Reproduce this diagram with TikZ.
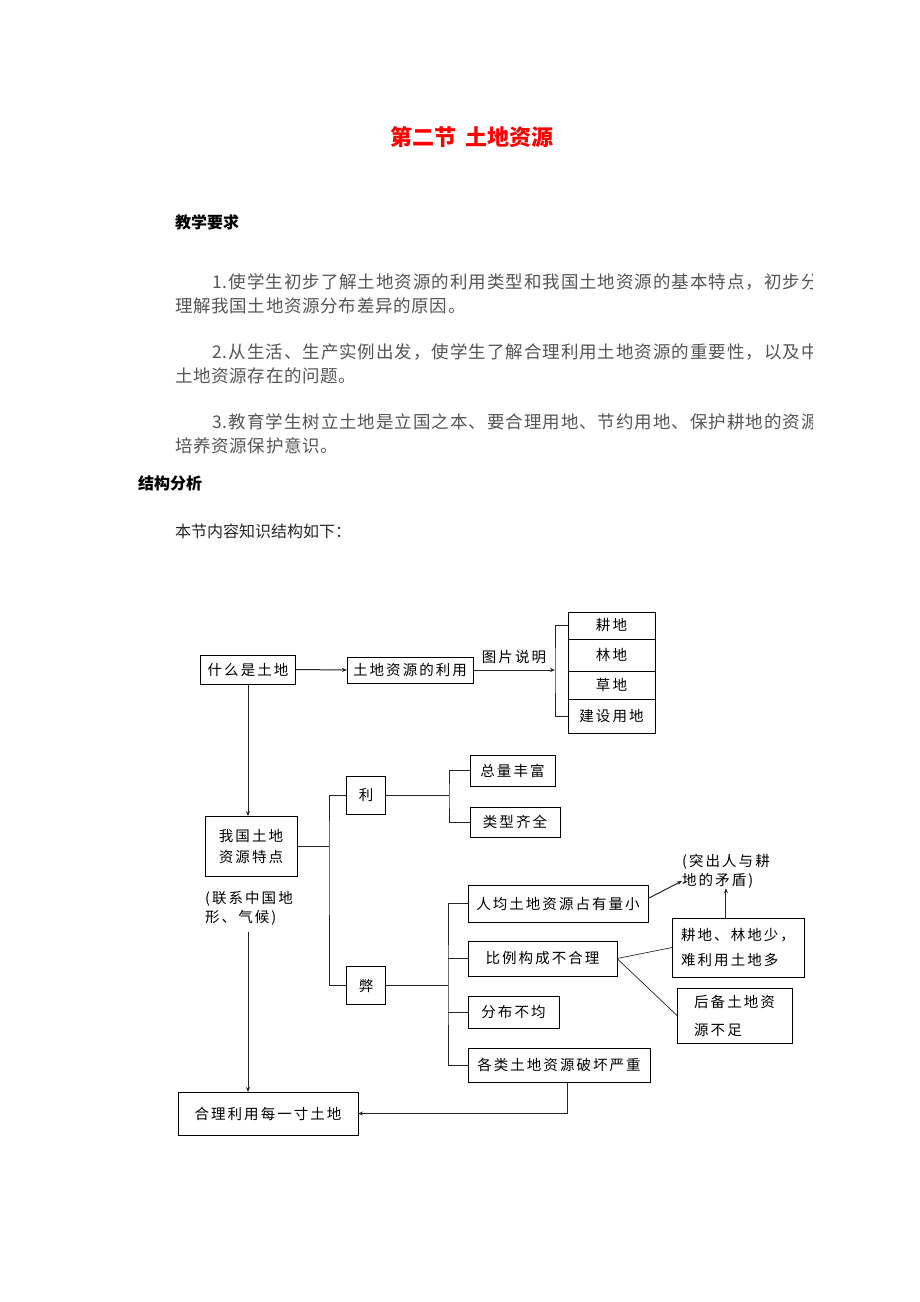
\documentclass[tikz,border=0pt]{standalone}
\usepackage{fontspec}
\setmainfont{Noto Sans CJK SC}
\newfontfamily\cjk{Noto Sans CJK SC}
\newfontfamily\cjkwide[LetterSpace=14]{Noto Sans CJK SC}
\newfontfamily\cjkpara[LetterSpace=4]{Noto Sans CJK SC}
\newfontfamily\cjkjust[LetterSpace=5.5]{Noto Sans CJK SC}
\usepackage{xcolor}
\usetikzlibrary{arrows.meta, positioning}
\definecolor{titlered}{HTML}{FF0000}
\definecolor{bodygray}{HTML}{555555}
\definecolor{linegray}{HTML}{262626}

\begin{document}
\begin{tikzpicture}[
  x=1pt, y=-1pt,
  box/.style={draw=black, line width=1pt, inner sep=0pt, outer sep=0pt, font=\fontsize{14.5}{21}\cjkwide, align=center},
  note/.style={inner sep=0pt, font=\fontsize{14.5}{19}\cjkwide, align=left},
  link/.style={draw=linegray, line width=1pt},
  thinlink/.style={draw=linegray, line width=0.7pt},
  arr/.style={link, -{Stealth[length=5pt, width=4pt]}},
  para/.style={anchor=west, inner sep=0pt, text=bodygray, font=\fontsize{17.5}{17.5}\cjkpara},
  parajust/.style={para, font=\fontsize{17.5}{17.5}\cjkjust},
  heading/.style={anchor=west, inner sep=0pt, font=\fontsize{16}{16}\cjk\bfseries}
]
\fill[white] (0,0) rectangle (920,1302);
\useasboundingbox (0,0) rectangle (920,1302);

% heading and teaching aims
\node[inner sep=0pt, text=titlered, font=\fontsize{22}{22}\cjk\bfseries] (biaoti) at (472,137) {第二节\hspace{9pt}土地资源};
\node[heading] (yaoqiu) at (175,222) {教学要求};
\begin{scope}
\clip (0,260) rectangle (812,460);
\node[parajust] (p1a) at (212,282) {1.使学生初步了解土地资源的利用类型和我国土地资源的基本特点，初步分};
\node[para] (p1b) at (175,306) {理解我国土地资源分布差异的原因。};
\node[parajust] (p2a) at (212,352) {2.从生活、生产实例出发，使学生了解合理利用土地资源的重要性，以及中};
\node[para] (p2b) at (175,376) {土地资源存在的问题。};
\node[parajust] (p3a) at (212,422) {3.教育学生树立土地是立国之本、要合理用地、节约用地、保护耕地的资源};
\node[para] (p3b) at (175,446) {培养资源保护意识。};
\end{scope}
\node[heading] (fenxi) at (138,483) {结构分析};
\node[para, text=black!85, font=\fontsize{16}{16}\cjk] (yinyan) at (175,531) {本节内容知识结构如下：};

% what is land / its use
\node[box, minimum width=95, minimum height=29] (shenme) at (248,669.5) {什么是土地};
\node[box, minimum width=126, minimum height=26] (liyong) at (410,670) {土地资源的利用};
\node[box, minimum width=87, minimum height=27] (gengdi) at (611.5,625.5) {耕地};
\node[box, minimum width=87, minimum height=32, below=0pt of gengdi] (lindi) {林地};
\node[box, minimum width=87, minimum height=28, below=0pt of lindi] (caodi) {草地};
\node[box, minimum width=87, minimum height=34, below=0pt of caodi] (jianshe) {建设用地};
\coordinate (kuo) at (555,670);
\draw[arr] (shenme.east) -- (liyong.west);
\draw[arr] (liyong.east) -- node[note, above=6pt] (tupian) {图片说明} (kuo);
\draw[link] (gengdi.west) -| (kuo) |- (jianshe.west);

% features of China's land
\node[box, minimum width=92, minimum height=60] (tedian) at (251,846) {我国土地\\资源特点};
\node[note, anchor=west] (lianxi) at (205,908.5) {(联系中国地\\形、气候)};
\node[box, minimum width=180, minimum height=43] (heli) at (268,1113.5) {合理利用每一寸土地};
\draw[arr] (shenme.south) -- (shenme.south |- tedian.north);
\draw[arr, shorten <=6pt] (lianxi.south -| shenme.south) -- (heli.north -| shenme.south);

\node[box, minimum width=39, minimum height=38] (li) at (366,795.5) {利};
\node[box, minimum width=39, minimum height=38] (bi) at (366,985.5) {弊};
\coordinate (zhu) at (329,846);
\draw[link] (tedian.east) -- (zhu);
\draw[link] (li.west) -| (zhu) |- (bi.west);

% advantages
\node[box, minimum width=85, minimum height=31] (zongliang) at (512.5,770.5) {总量丰富};
\node[box, minimum width=90, minimum height=30] (leixing) at (515,822) {类型齐全};
\coordinate (fen1) at (449,795.5);
\draw[link] (li.east) -- (fen1);
\draw[link] (zongliang.west) -| (fen1) |- (leixing.west);

% disadvantages
\node[box, minimum width=180, minimum height=37] (renjun) at (558,903.5) {人均土地资源占有量小};
\node[box, minimum width=149, minimum height=35] (bili) at (542.5,958.5) {比例构成不合理};
\node[box, minimum width=91, minimum height=32] (fenbu) at (513.5,1012) {分布不均};
\node[box, minimum width=182, minimum height=34] (gelei) at (559,1065) {各类土地资源破坏严重};
\coordinate (fen2) at (448,985.5);
\draw[link] (bi.east) -- (fen2);
\draw[link] (renjun.west) -| (fen2) |- (gelei.west);
\draw[link] (bili.west) -- (bili.west -| fen2);
\draw[link] (fenbu.west) -- (fenbu.west -| fen2);

\node[box, minimum width=132, minimum height=59, align=left] (gengshao) at (738,947.5) {耕地、林地少，\\[4pt]难利用土地多};
\node[box, minimum width=115, minimum height=55, align=left] (houbei) at (734.5,1015.5) {后备土地资\\[7pt]源不足};
\node[note, anchor=west] (tuchu) at (682,871) {(突出人与耕\\地的矛盾)};
\draw[arr] ([yshift=5]renjun.east) -- ([yshift=-10]tuchu.west);
\draw[arr] (gengshao.north -| tuchu.south) -- (tuchu.south);
\draw[thinlink] (bili.east) -- (gengshao.west);
\draw[thinlink] (bili.east) -- (houbei.west);
\draw[arr] ([xshift=8.5]gelei.south) |- (heli.east);
\end{tikzpicture}
\end{document}
